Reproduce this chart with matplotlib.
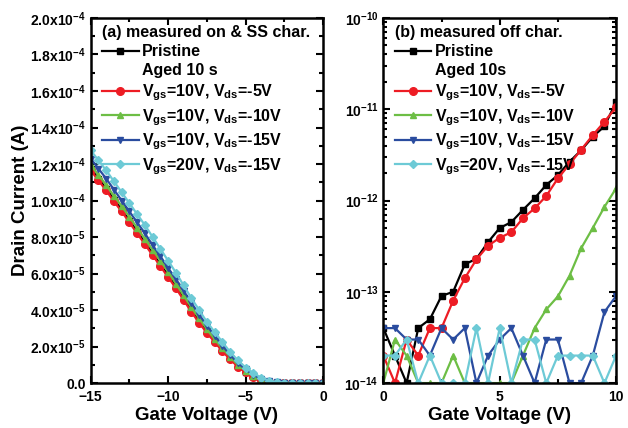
import matplotlib
matplotlib.use("Agg")
import matplotlib.pyplot as plt
import numpy as np
from matplotlib.lines import Line2D
from matplotlib.ticker import MultipleLocator, FuncFormatter, LogLocator, NullFormatter

plt.rcParams['font.family'] = ['Liberation Sans', 'DejaVu Sans']
plt.rcParams['font.weight'] = 'bold'
plt.rcParams['mathtext.fontset'] = 'custom'
plt.rcParams['mathtext.rm'] = 'Liberation Sans:bold'
plt.rcParams['mathtext.bf'] = 'Liberation Sans:bold'
plt.rcParams['mathtext.default'] = 'bf'

# (a) on / SS characteristics, gate voltage -15..0 V step 0.5, current in uA
vg_on = np.arange(-15, 0.01, 0.5)
on_pristine = [117.5, 112, 106.5, 100.5, 95, 89, 83, 77, 71, 65, 59, 53, 46.5, 40, 34,
               28.5, 23, 18, 13.5, 9.5, 6.3, 3.7, 1.7, 0.7, 0.25, 0.1, 0.06, 0.05, 0.04, 0.04, 0.04]
on_10_5 = [116.5, 111, 105.5, 99.5, 94, 88, 82, 76, 70, 64, 58, 52, 45.5, 39, 33,
           27.5, 22.5, 17.5, 13, 9, 6, 3.5, 1.6, 0.6, 0.2, 0.08, 0.05, 0.04, 0.03, 0.03, 0.03]
on_10_10 = [119.5, 114, 108.5, 102.5, 97, 91, 85, 79, 73, 67, 61, 54.5, 48, 41.5, 35.5,
            29.5, 24, 19, 14.5, 10, 6.8, 4, 1.9, 0.8, 0.3, 0.1, 0.06, 0.05, 0.04, 0.04, 0.04]
on_10_15 = [123, 117.5, 112, 106, 100, 94, 88, 82, 75.5, 69.5, 63, 57, 50.5, 44, 37.5,
            31.5, 26, 20.5, 15.5, 11, 7.5, 4.5, 2.3, 1.0, 0.4, 0.15, 0.08, 0.06, 0.05, 0.05, 0.05]
on_20_15 = [127.5, 122, 116.5, 110.5, 104.5, 98.5, 92.5, 86.5, 80, 73.5, 67, 60.5, 53.5, 46.5, 40,
            33.5, 28, 22.5, 17, 12.5, 8.5, 5.5, 3, 1.3, 0.5, 0.2, 0.1, 0.08, 0.06, 0.06, 0.06]

# (b) off characteristics, gate voltage 0..10 V step 0.5, current in A
vg_off = np.arange(0, 10.01, 0.5)
off_pristine = [4e-14, 2e-14, 1e-14, 4e-14, 5e-14, 9e-14, 1e-13, 2e-13, 2.3e-13, 3.5e-13, 5e-13,
                5.8e-13, 7.9e-13, 1.06e-12, 1.48e-12, 1.9e-12, 2.66e-12, 3.55e-12, 5e-12, 6.5e-12, 1.2e-11]
off_10_5 = [2e-14, 1e-14, 3e-14, 2e-14, 4e-14, 4e-14, 8e-14, 1.41e-13, 2.26e-13, 3.2e-13, 3.9e-13,
            4.5e-13, 6.4e-13, 8.2e-13, 1.12e-12, 1.75e-12, 2.5e-12, 3.6e-12, 5.2e-12, 7.3e-12, 1.05e-11]
off_10_10 = [1e-14, 3e-14, 2e-14, 1e-14, 1e-14, 1e-14, 2e-14, 1e-14, 1e-14, 1e-14, 1e-14,
             1e-14, 2e-14, 4e-14, 6.4e-14, 8.9e-14, 1.5e-13, 3e-13, 5e-13, 8.5e-13, 1.36e-12]
off_10_15 = [4e-14, 4e-14, 3e-14, 3e-14, 2e-14, 4e-14, 3e-14, 4e-14, 1e-14, 2e-14, 3e-14,
             4e-14, 2e-14, 1e-14, 3e-14, 3e-14, 1e-14, 1e-14, 2e-14, 6e-14, 9e-14]
off_20_15 = [2e-14, 2e-14, 3e-14, 1e-14, 2e-14, 1e-14, 1e-14, 1e-14, 4e-14, 1e-14, 4e-14,
             1e-14, 3e-14, 3e-14, 1e-14, 2e-14, 2e-14, 2e-14, 2e-14, 1e-14, 2e-14]

labels = ['Pristine', None, r'V$_{gs}$=10V, V$_{ds}$=-5V', r'V$_{gs}$=10V, V$_{ds}$=-10V',
          r'V$_{gs}$=10V, V$_{ds}$=-15V', r'V$_{gs}$=20V, V$_{ds}$=-15V']
colors = ['black', '#ED1C24', '#6DBE45', '#2A4C9F', '#6DCAD6']
markers = ['s', 'o', '^', 'v', 'D']
msizes = [4.5, 5.5, 5, 5, 4.5]

fig = plt.figure(figsize=(6.28, 4.28), dpi=100)
ax1 = fig.add_axes([0.1444, 0.105, 0.3700, 0.853])
ax2 = fig.add_axes([0.6104, 0.105, 0.3706, 0.853])

on_series = [on_pristine, on_10_5, on_10_10, on_10_15, on_20_15]
off_series = [off_pristine, off_10_5, off_10_10, off_10_15, off_20_15]

h1 = []
for ys, c, m, ms in zip(on_series, colors, markers, msizes):
    l, = ax1.plot(vg_on, np.array(ys) * 1e-6, color=c, marker=m, markersize=ms, linewidth=1.6)
    h1.append(l)
h2 = []
for ys, c, m, ms in zip(off_series, colors, markers, msizes):
    l, = ax2.plot(vg_off, ys, color=c, marker=m, markersize=ms, linewidth=1.6)
    h2.append(l)


def sci_fmt(v, pos):
    if abs(v) < 1e-12:
        return '0.0'
    e = int(np.floor(np.log10(abs(v)) + 1e-9))
    return r'%.1fx10$^{%d}$' % (v / 10 ** e, e)


ax1.set_xlim(-15, 0)
ax1.set_ylim(0, 2e-4)
ax1.xaxis.set_major_locator(MultipleLocator(5))
ax1.xaxis.set_minor_locator(MultipleLocator(2.5))
ax1.yaxis.set_major_locator(MultipleLocator(2e-5))
ax1.yaxis.set_minor_locator(MultipleLocator(1e-5))
ax1.yaxis.set_major_formatter(FuncFormatter(sci_fmt))

ax2.set_xlim(0, 10)
ax2.set_yscale('log')
ax2.set_ylim(1e-14, 1e-10)
ax2.xaxis.set_major_locator(MultipleLocator(5))
ax2.xaxis.set_minor_locator(MultipleLocator(2.5))
ax2.yaxis.set_major_locator(LogLocator(base=10, numticks=10))
ax2.yaxis.set_minor_locator(LogLocator(base=10, subs=np.arange(2, 10), numticks=20))
ax2.yaxis.set_minor_formatter(NullFormatter())

for ax in (ax1, ax2):
    for s in ax.spines.values():
        s.set_linewidth(1.8)
    ax.tick_params(which='both', direction='in', top=True, right=True, labelsize=10, width=1.5)
    ax.tick_params(which='major', length=5)
    ax.tick_params(which='minor', length=3)
    ax.tick_params(axis='x', pad=5)
    ax.set_xlabel('Gate Voltage (V)', fontsize=13.5, fontweight='bold', labelpad=2)

ax1.set_ylabel('Drain Current (A)', fontsize=13.5, fontweight='bold', labelpad=1)

blank = Line2D([], [], color='none')


def add_legend(ax, handles, title, aged):
    hs = [handles[0], blank] + handles[1:]
    lb = list(labels)
    lb[1] = aged
    ax.legend(hs, lb, title=title, loc='upper left', frameon=False, alignment='left',
              bbox_to_anchor=(0.025, 0.995),
              prop={'weight': 'bold', 'size': 11.5},
              title_fontproperties={'weight': 'bold', 'size': 11.5},
              handlelength=2.3, handletextpad=0.2, labelspacing=0.25,
              borderaxespad=0.15, borderpad=0.2)


add_legend(ax1, h1, '(a) measured on & SS char.', 'Aged 10 s')
add_legend(ax2, h2, '(b) measured off char.', 'Aged 10s')

plt.savefig('out.png', dpi=100)
